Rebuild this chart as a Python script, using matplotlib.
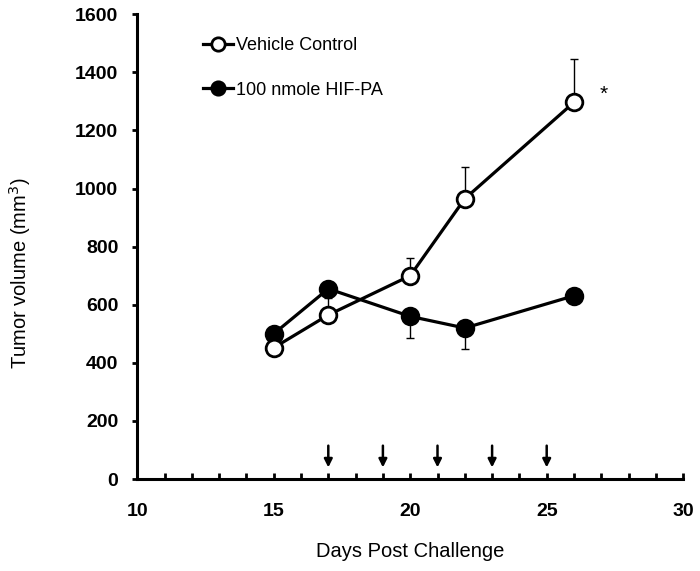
import numpy as np
import matplotlib
matplotlib.use('Agg')
import matplotlib.pyplot as plt

plt.rcParams['font.family'] = ['Liberation Sans', 'DejaVu Sans']

days = [15, 17, 20, 22, 26]
vehicle = [452, 565, 700, 965, 1297]
vehicle_err = [0, 60, 60, 110, 150]
hif = [500, 655, 560, 520, 631]
hif_err = [0, 0, 75, 73, 0]
dose_days = [17, 19, 21, 23, 25]

fig = plt.figure(figsize=(7, 5.71), dpi=100)
ax = fig.add_axes([0.196, 0.161, 0.78, 0.814])

# one sided error bars: up for vehicle, down for treated
ax.errorbar(days, vehicle, yerr=[np.zeros(len(vehicle_err)), vehicle_err],
            fmt='none', ecolor='black', elinewidth=1, capsize=3, capthick=1, zorder=1)
ax.errorbar(days, hif, yerr=[hif_err, np.zeros(len(hif_err))],
            fmt='none', ecolor='black', elinewidth=1, capsize=3, capthick=1, zorder=1)

ax.plot(days, vehicle, color='black', lw=2.3, marker='o', ms=12,
        mfc='white', mec='black', mew=2, label='Vehicle Control', zorder=3)
ax.plot(days, hif, color='black', lw=2.3, marker='o', ms=12,
        mfc='black', mec='black', mew=2, label='100 nmole HIF-PA', zorder=2)

for d in dose_days:
    ax.annotate('', xy=(d, 40), xytext=(d, 115),
                arrowprops=dict(arrowstyle='-|>', color='black', lw=1.8,
                                mutation_scale=12, shrinkA=0, shrinkB=0))

ax.text(27.1, 1325, '*', fontsize=15, ha='center', va='center')

ax.set_xlim(10, 30)
ax.set_ylim(0, 1600)
ax.set_xticks([10, 15, 20, 25, 30])
ax.set_xticks(np.arange(10, 31, 1), minor=True)
ax.set_yticks(np.arange(0, 1601, 200))
ax.tick_params(axis='x', which='both', direction='in', length=4, width=2, pad=17)
ax.tick_params(axis='y', direction='out', length=3.6, width=2, pad=10)
for lab in ax.get_xticklabels() + ax.get_yticklabels():
    lab.set_fontweight('bold')
    lab.set_fontsize(14)

for s in ['top', 'right']:
    ax.spines[s].set_visible(False)
for s in ['left', 'bottom']:
    ax.spines[s].set_linewidth(2.2)

ax.set_xlabel('Days Post Challenge', fontsize=14.5, labelpad=16)
ax.set_ylabel('Tumor volume (mm$^3$)', fontsize=14.5)
ax.yaxis.set_label_coords(-0.19, 0.442)

leg = ax.legend(loc='upper left', bbox_to_anchor=(0.09, 0.985), frameon=False,
                fontsize=13, handlelength=1.7, handletextpad=0.15,
                labelspacing=1.5, markerscale=0.8)

fig.savefig('out.png', dpi=100)
